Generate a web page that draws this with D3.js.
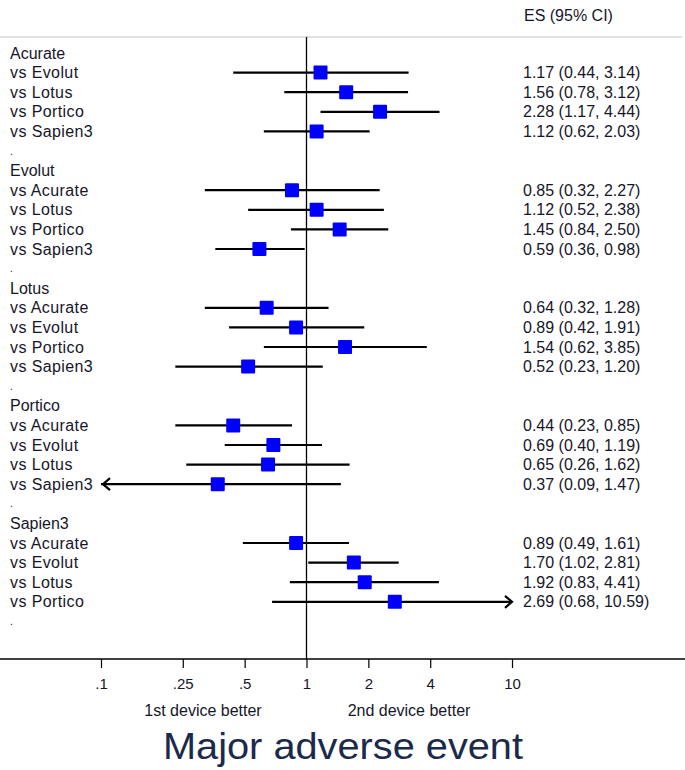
<!DOCTYPE html>
<html>
<head>
<meta charset="utf-8">
<script src="https://cdn.jsdelivr.net/npm/d3@7"></script>
<style>
  body { margin: 0; background: #fff; }
  text { font-family: "Liberation Sans", Arial, sans-serif; }
</style>
</head>
<body>
<div id="chart"></div>
<script>
// data
var devices = ["Acurate", "Evolut", "Lotus", "Portico", "Sapien3"];
var comparators = [
    ["Evolut", "Lotus", "Portico", "Sapien3"],
    ["Acurate", "Lotus", "Portico", "Sapien3"],
    ["Acurate", "Evolut", "Portico", "Sapien3"],
    ["Acurate", "Evolut", "Lotus", "Sapien3"],
    ["Acurate", "Evolut", "Lotus", "Portico"]
];
var esValues = [
    [1.17, 1.56, 2.28, 1.12],
    [0.85, 1.12, 1.45, 0.59],
    [0.64, 0.89, 1.54, 0.52],
    [0.44, 0.69, 0.65, 0.37],
    [0.89, 1.70, 1.92, 2.69]
];
var lowerCI = [
    [0.44, 0.78, 1.17, 0.62],
    [0.32, 0.52, 0.84, 0.36],
    [0.32, 0.42, 0.62, 0.23],
    [0.23, 0.40, 0.26, 0.09],
    [0.49, 1.02, 0.83, 0.68]
];
var upperCI = [
    [3.14, 3.12, 4.44, 2.03],
    [2.27, 2.38, 2.50, 0.98],
    [1.28, 1.91, 3.85, 1.20],
    [0.85, 1.19, 1.62, 1.47],
    [1.61, 2.81, 4.41, 10.59]
];
var tickValues = [0.1, 0.25, 0.5, 1, 2, 4, 10];
var tickLabels = [".1", ".25", ".5", "1", "2", "4", "10"];

var width = 685, height = 770;
var ink = "#16162a";

var svg = d3.select("#chart").append("svg")
    .attr("width", width)
    .attr("height", height);

// build the row list
var rows = [];
devices.forEach(function (dev, i) {
    rows.push({type: "header", label: dev});
    comparators[i].forEach(function (c, j) {
        rows.push({type: "est", label: "vs " + c, es: esValues[i][j], lo: lowerCI[i][j], hi: upperCI[i][j]});
    });
    rows.push({type: "blank", label: "."});
});

var xScale = d3.scaleLog().domain([0.1, 10]).range([101, 512]);
var yScale = d3.scaleLinear().domain([0, rows.length - 1]).range([53, 621.4]);

var axisY = 659, topY = 37;
var fmt = d3.format(".2f");

// header rule
svg.append("line")
    .attr("x1", 0).attr("x2", 682)
    .attr("y1", topY).attr("y2", topY)
    .attr("stroke", "#d9d9d9").attr("stroke-width", 1.5);

svg.append("text")
    .attr("x", 524).attr("y", 21)
    .attr("font-size", 16).attr("fill", ink)
    .text("ES (95% CI)");

// null line
svg.append("line")
    .attr("x1", xScale(1)).attr("x2", xScale(1))
    .attr("y1", topY).attr("y2", axisY)
    .attr("stroke", "#000").attr("stroke-width", 1.3);

// x axis
var xAxis = d3.axisBottom(xScale)
    .tickValues(tickValues)
    .tickFormat(function (d, i) { return tickLabels[i]; })
    .tickSize(9)
    .tickPadding(10);

var gx = svg.append("g")
    .attr("transform", "translate(0," + axisY + ")")
    .call(xAxis);
gx.select(".domain").remove();
gx.selectAll(".tick line").attr("stroke", "#000").attr("stroke-width", 1.2);
gx.selectAll(".tick text")
    .attr("font-family", "Liberation Sans, Arial, sans-serif")
    .attr("font-size", 15).attr("fill", ink);
svg.append("line")
    .attr("x1", 0).attr("x2", width)
    .attr("y1", axisY).attr("y2", axisY)
    .attr("stroke", "#000").attr("stroke-width", 1.3);

// row labels
svg.selectAll(".rowLabel")
    .data(rows)
    .enter().append("text")
    .attr("class", "rowLabel")
    .attr("x", 10)
    .attr("y", function (d, i) { return yScale(i); })
    .attr("dy", "0.35em")
    .attr("font-size", function (d) { return d.type === "blank" ? 10 : 16; })
    .attr("letter-spacing", function (d) { return d.type === "est" ? 0.4 : 0; })
    .attr("fill", ink)
    .text(function (d) { return d.label; });

var est = rows.map(function (d, i) { d.idx = i; return d; })
    .filter(function (d) { return d.type === "est"; });

var clampX = function (v) { return xScale(Math.max(0.1, Math.min(10, v))); };

// CI lines
svg.selectAll(".ci")
    .data(est)
    .enter().append("line")
    .attr("class", "ci")
    .attr("x1", function (d) { return clampX(d.lo); })
    .attr("x2", function (d) { return clampX(d.hi); })
    .attr("y1", function (d) { return yScale(d.idx); })
    .attr("y2", function (d) { return yScale(d.idx); })
    .attr("stroke", "#000").attr("stroke-width", 2.2);

// arrows where CI leaves the scale
svg.selectAll(".arrowL")
    .data(est.filter(function (d) { return d.lo < 0.1; }))
    .enter().append("path")
    .attr("d", function (d) {
        var x = clampX(d.lo) + 2, y = yScale(d.idx);
        return "M" + (x + 7) + "," + (y - 6) + "L" + x + "," + y + "L" + (x + 7) + "," + (y + 6);
    })
    .attr("fill", "none").attr("stroke", "#000").attr("stroke-width", 2.2);

svg.selectAll(".arrowR")
    .data(est.filter(function (d) { return d.hi > 10; }))
    .enter().append("path")
    .attr("d", function (d) {
        var x = clampX(d.hi), y = yScale(d.idx);
        return "M" + (x - 7) + "," + (y - 6) + "L" + x + "," + y + "L" + (x - 7) + "," + (y + 6);
    })
    .attr("fill", "none").attr("stroke", "#000").attr("stroke-width", 2.2);

// point estimates
var sq = 14;
svg.selectAll(".pt")
    .data(est)
    .enter().append("rect")
    .attr("class", "pt")
    .attr("x", function (d) { return xScale(d.es) - sq / 2; })
    .attr("y", function (d) { return yScale(d.idx) - sq / 2; })
    .attr("width", sq).attr("height", sq)
    .attr("rx", 1)
    .attr("fill", "#0000ff");

// ES text
svg.selectAll(".esText")
    .data(est)
    .enter().append("text")
    .attr("class", "esText")
    .attr("x", 523)
    .attr("y", function (d) { return yScale(d.idx); })
    .attr("dy", "0.35em")
    .attr("font-size", 16).attr("fill", ink)
    .text(function (d) { return fmt(d.es) + " (" + fmt(d.lo) + ", " + fmt(d.hi) + ")"; });

// favours labels
svg.append("text")
    .attr("x", 203).attr("y", 716)
    .attr("text-anchor", "middle")
    .attr("font-size", 16).attr("fill", ink)
    .text("1st device better");
svg.append("text")
    .attr("x", 409).attr("y", 716)
    .attr("text-anchor", "middle")
    .attr("font-size", 16).attr("fill", ink)
    .text("2nd device better");

svg.append("text")
    .attr("x", 343).attr("y", 759)
    .attr("text-anchor", "middle")
    .attr("font-size", 37).attr("fill", "#1c2a4a")
    .attr("textLength", 360).attr("lengthAdjust", "spacingAndGlyphs")
    .text("Major adverse event");
</script>
</body>
</html>
